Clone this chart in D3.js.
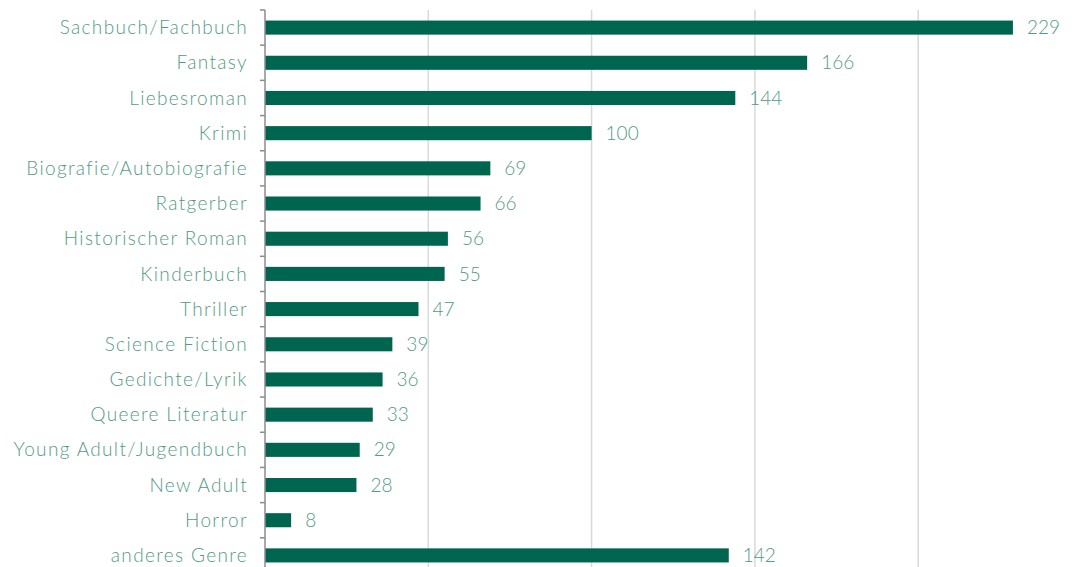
<!DOCTYPE html>
<html>
<head>
<meta charset="utf-8">
<script src="https://cdn.jsdelivr.net/npm/d3@7"></script>
<style>
  body { margin: 0; background: #fff; }
  text { font-family: Lato, sans-serif; font-weight: 300; }
</style>
</head>
<body>
<svg id="chart" width="1074" height="567"></svg>
<script>
// genres, top to bottom
var genres = ["Sachbuch/Fachbuch", "Fantasy", "Liebesroman", "Krimi", "Biografie/Autobiografie",
  "Ratgerber", "Historischer Roman", "Kinderbuch", "Thriller", "Science Fiction",
  "Gedichte/Lyrik", "Queere Literatur", "Young Adult/Jugendbuch", "New Adult", "Horror", "anderes Genre"];
var counts = [229, 166, 144, 100, 69, 66, 56, 55, 47, 39, 36, 33, 29, 28, 8, 142];
var gridValues = [50, 100, 150, 200];

var barColor = "#00654f";
var textColor = "#559a86";

var svg = d3.select("#chart");
var plotLeft = 265, plotTop = 10, plotBottom = 573;

var x = d3.scaleLinear()
    .domain([0, 250])
    .range([plotLeft, plotLeft + 250 * 3.266]);

var y = d3.scaleBand()
    .domain(genres)
    .range([plotTop, plotBottom])
    .paddingInner(0.6)
    .paddingOuter(0.3);

// vertical grid lines
svg.selectAll(".grid")
    .data(gridValues)
    .enter().append("line")
    .attr("class", "grid")
    .attr("x1", function(d) { return x(d); })
    .attr("x2", function(d) { return x(d); })
    .attr("y1", plotTop)
    .attr("y2", 567)
    .attr("stroke", "#d9d9d9")
    .attr("stroke-width", 1.5);

// bars
svg.selectAll(".bar")
    .data(counts)
    .enter().append("rect")
    .attr("class", "bar")
    .attr("x", x(0))
    .attr("y", function(d, i) { return y(genres[i]); })
    .attr("width", function(d) { return x(d) - x(0); })
    .attr("height", y.bandwidth())
    .attr("fill", barColor);

// value labels
svg.selectAll(".val")
    .data(counts)
    .enter().append("text")
    .attr("class", "val")
    .attr("x", function(d) { return x(d) + 14; })
    .attr("y", function(d, i) { return y(genres[i]) + y.bandwidth() / 2; })
    .attr("dy", "0.35em")
    .attr("fill", textColor)
    .style("font-size", "19px")
    .text(function(d) { return d; });

// category axis with ticks between categories
var axis = svg.append("g");
axis.append("line")
    .attr("x1", plotLeft).attr("x2", plotLeft)
    .attr("y1", plotTop).attr("y2", 567)
    .attr("stroke", "#8c8c8c")
    .attr("stroke-width", 1.5);

var bounds = d3.range(genres.length + 1).map(function(i) {
    return plotTop + i * (plotBottom - plotTop) / genres.length;
});
axis.selectAll(".tick")
    .data(bounds)
    .enter().append("line")
    .attr("x1", plotLeft - 5).attr("x2", plotLeft)
    .attr("y1", function(d) { return d; })
    .attr("y2", function(d) { return d; })
    .attr("stroke", "#8c8c8c")
    .attr("stroke-width", 1.5);

axis.selectAll(".lab")
    .data(genres)
    .enter().append("text")
    .attr("x", 248)
    .attr("y", function(d) { return y(d) + y.bandwidth() / 2; })
    .attr("dy", "0.35em")
    .attr("text-anchor", "end")
    .attr("fill", textColor)
    .style("font-size", "19px")
    .style("letter-spacing", "1.35px")
    .text(function(d) { return d; });
</script>
</body>
</html>
